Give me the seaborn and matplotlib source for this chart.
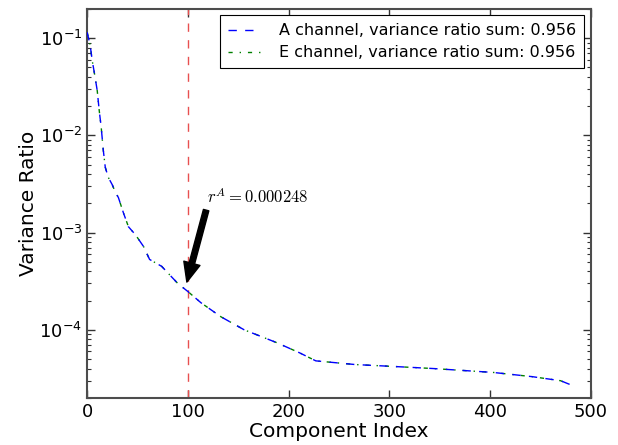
import numpy as np
import pandas as pd
import matplotlib
matplotlib.use('Agg')
import matplotlib.pyplot as plt
import seaborn as sns

# component index vs. explained variance ratio
comp_idx = [0, 3, 5, 7, 10, 12, 14, 16, 18, 21, 25, 28, 31, 36, 41, 48, 56,
            62, 74, 90, 100, 113, 133, 156, 188, 211, 227, 266, 305, 344,
            403, 442, 470, 479]
var_a = [0.115, 0.085, 0.059, 0.045, 0.029, 0.018, 0.012, 0.0071, 0.0047,
         0.0037, 0.0031, 0.0026, 0.0023, 0.0016, 0.00115, 0.00095, 0.00072,
         0.00053, 0.00045, 0.0003, 0.000248, 0.00019, 0.000136, 0.0001,
         7.4e-5, 5.8e-5, 4.8e-5, 4.4e-5, 4.2e-5, 4.0e-5, 3.65e-5, 3.3e-5,
         3.0e-5, 2.75e-5]
var_e = list(var_a)
labels = ['A channel, variance ratio sum: 0.956',
          'E channel, variance ratio sum: 0.956']
cut_idx = 100
cut_val = 0.000248


def main():
    sns.set_theme(style='ticks')
    plt.rcParams['font.family'] = ['DejaVu Sans']
    plt.rcParams['mathtext.fontset'] = 'cm'
    # old matplotlib look: black text, long dashes
    for k in ['text.color', 'axes.labelcolor', 'xtick.color', 'ytick.color']:
        plt.rcParams[k] = 'black'
    plt.rcParams['lines.dashed_pattern'] = [6, 6]
    plt.rcParams['lines.dashdot_pattern'] = [3, 5, 1, 5]
    plt.rcParams['lines.scale_dashes'] = False

    data = pd.DataFrame({'idx': comp_idx, 'A': var_a, 'E': var_e})

    fig = plt.figure(figsize=(6.18, 4.45), dpi=100)
    ax = fig.add_axes([0.141, 0.106, 0.815, 0.874])

    sns.lineplot(data=data, x='idx', y='A', ax=ax, color='blue',
                 linestyle='--', linewidth=1, label=labels[0])
    sns.lineplot(data=data, x='idx', y='E', ax=ax, color='green',
                 linestyle='-.', linewidth=1, label=labels[1])
    ax.lines[0].set_zorder(3)

    ax.axvline(cut_idx, color='#e85050', linestyle='--', linewidth=1)

    ax.annotate(r'$r^A = %.6f$' % cut_val,
                xy=(cut_idx - 1, 3.1e-4), xytext=(119, 0.0023),
                fontsize=12, ha='left', va='center',
                arrowprops=dict(facecolor='black', edgecolor='black',
                                width=4, headwidth=12, headlength=14,
                                shrink=0.0))

    ax.set_yscale('log')
    ax.set_xlim(0, 500)
    ax.set_ylim(2.0e-5, 0.2)
    ax.set_xticks([0, 100, 200, 300, 400, 500])

    ax.set_xlabel('Component Index', fontsize=14.5, labelpad=1)
    ax.set_ylabel('Variance Ratio', fontsize=14.5, labelpad=1)
    ax.tick_params(axis='both', which='both', direction='in', top=True,
                   right=True, labelsize=13, color='0.2')
    ax.tick_params(axis='both', which='major', length=6, width=1)
    ax.tick_params(axis='both', which='minor', length=3, width=0.8)
    for sp in ax.spines.values():
        sp.set_color('0.3')
        sp.set_linewidth(1.5)

    leg = ax.legend(loc='upper right', fontsize=11.5, fancybox=False,
                    handlelength=2, handletextpad=1.2, framealpha=1,
                    borderaxespad=0.4, borderpad=0.5, labelspacing=0.45)
    leg.get_frame().set_edgecolor('black')
    leg.get_frame().set_linewidth(0.8)

    plt.savefig('out.png', dpi=100)


if __name__ == '__main__':
    main()
